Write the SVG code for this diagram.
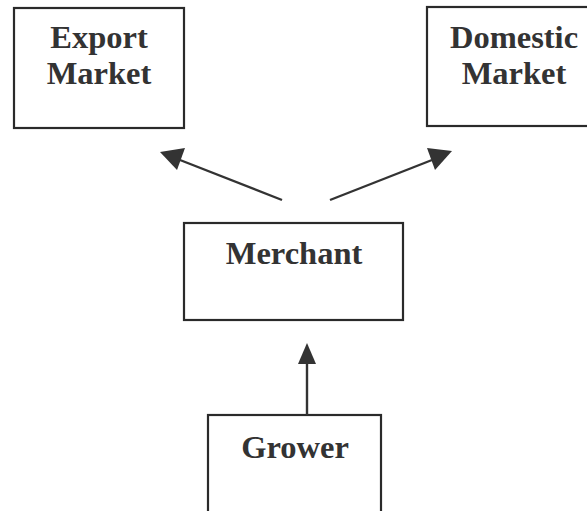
<svg xmlns="http://www.w3.org/2000/svg" width="587" height="511" viewBox="0 0 587 511">
<style>
.box{fill:#fff;stroke:#2a2a2a;stroke-width:2.2}
.lbl{font-family:"Liberation Serif","Times New Roman",serif;font-weight:bold;font-size:32.5px;fill:#333;text-anchor:middle}
.edge{stroke:#333;stroke-width:2.4;fill:none}
.head{fill:#333}
</style>
<rect width="587" height="511" fill="#fff"/>
<g id="export">
<rect class="box" x="14" y="8" width="170" height="120"/>
<text class="lbl" x="99" y="48">Export</text>
<text class="lbl" x="99" y="84">Market</text>
</g>
<g id="domestic">
<rect class="box" x="427" y="7" width="170" height="119"/>
<text class="lbl" x="514" y="48">Domestic</text>
<text class="lbl" x="514" y="84">Market</text>
</g>
<g id="merchant">
<rect class="box" x="184" y="223" width="219" height="97"/>
<text class="lbl" x="294" y="264">Merchant</text>
</g>
<g id="grower">
<rect class="box" x="208" y="415" width="173" height="110"/>
<text class="lbl" x="295" y="458">Grower</text>
</g>
<g id="connectors">
<line class="edge" x1="282" y1="200" x2="180" y2="160"/>
<polygon class="head" points="160,152 185,148 177,170"/>
<line class="edge" x1="330" y1="200" x2="432" y2="160"/>
<polygon class="head" points="452,151 427,148 435,170"/>
<line class="edge" x1="307" y1="415" x2="307" y2="360"/>
<polygon class="head" points="307,343 298,364 316,364"/>
</g>
</svg>
